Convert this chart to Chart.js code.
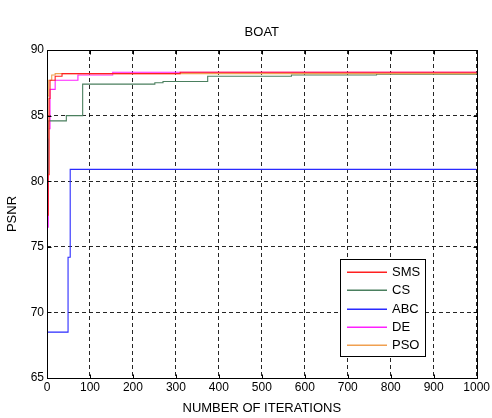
<!DOCTYPE html>
<html>
<head>
<meta charset="utf-8">
<script src="https://cdn.jsdelivr.net/npm/chart.js@4.4.0/dist/chart.umd.min.js"></script>
<style>
html,body{margin:0;padding:0;background:#fff;}
canvas{display:block;}
</style>
</head>
<body>
<canvas id="c" width="492" height="418"></canvas>
<script>
// ---- data ----
const seriesNames = ["SMS", "CS", "ABC", "DE", "PSO"];
const xTicks = [0, 100, 200, 300, 400, 500, 600, 700, 800, 900, 1000];
const yTicks = [65, 70, 75, 80, 85, 90];

const smsIter = [0, 3, 5, 7, 12, 19, 35, 310, 1000];
const smsPSNR = [77.4, 80.5, 86.3, 87.7, 87.7, 88.0, 88.2, 88.3, 88.3];

const csIter = [0, 3, 45, 83, 251, 270, 374, 569, 767, 1000];
const csPSNR = [80.6, 84.6, 85.0, 87.4, 87.5, 87.6, 88.0, 88.1, 88.15, 88.15];

const abcIter = [0, 49, 54, 1000];
const abcPSNR = [68.5, 74.2, 80.9, 80.9];

const deIter = [0, 3, 7, 19, 72, 153, 1000];
const dePSNR = [76.5, 84.0, 87.0, 87.7, 88.1, 88.3, 88.3];

const psoIter = [0, 2, 4, 11, 19, 1000];
const psoPSNR = [83.3, 86.5, 87.7, 88.1, 88.2, 88.25];

const colors = ["#ff2020", "#4a7f5e", "#2a2aff", "#ff20ff", "#f0a050"];
const drawOrder = [0, 2, 2, 3, 1];

function pts(xs, ys) { return xs.map((v, i) => ({x: v, y: ys[i]})); }
const seriesData = [pts(smsIter, smsPSNR), pts(csIter, csPSNR), pts(abcIter, abcPSNR), pts(deIter, dePSNR), pts(psoIter, psoPSNR)];

Chart.defaults.font.family = "'Liberation Sans', Arial, sans-serif";
Chart.defaults.font.size = 12;
Chart.defaults.color = "#000";

const framePlugin = {
  id: 'frame',
  beforeDraw(chart) {
    const ctx = chart.ctx;
    ctx.save();
    ctx.fillStyle = '#fff';
    ctx.fillRect(0, 0, chart.width, chart.height);
    ctx.restore();
  },
  afterDatasetsDraw(chart) {
    const {ctx, chartArea, scales} = chart;
    const l = Math.round(chartArea.left) + 0.5, r = Math.round(chartArea.right) + 0.5;
    const t = Math.round(chartArea.top) + 0.5, b = Math.round(chartArea.bottom) + 0.5;
    ctx.save();
    ctx.strokeStyle = '#000';
    ctx.lineWidth = 1;
    ctx.setLineDash([]);
    ctx.strokeRect(l, t, r - l, b - t);
    ctx.beginPath();
    xTicks.forEach(v => {
      const px = Math.round(scales.x.getPixelForValue(v)) + 0.5;
      ctx.moveTo(px, b); ctx.lineTo(px, b - 4);
      ctx.moveTo(px, t); ctx.lineTo(px, t + 4);
    });
    yTicks.forEach(v => {
      const py = Math.round(scales.y.getPixelForValue(v)) + 0.5;
      ctx.moveTo(l, py); ctx.lineTo(l + 4, py);
      ctx.moveTo(r, py); ctx.lineTo(r - 4, py);
    });
    ctx.stroke();
    // legend box
    const bx = 340.5, by = 259.5, bw = 85, bh = 97;
    ctx.fillStyle = '#fff';
    ctx.fillRect(bx, by, bw, bh);
    ctx.strokeStyle = '#000';
    ctx.strokeRect(bx, by, bw, bh);
    ctx.font = "13px 'Liberation Sans', Arial, sans-serif";
    ctx.textBaseline = 'middle';
    ctx.textAlign = 'left';
    chart.data.datasets.forEach((ds, i) => {
      const y = Math.round(272 + i * 18.3);
      ctx.fillStyle = colors[i];
      ctx.fillRect(347, y - 0.5, 40, 1.5);
      ctx.fillStyle = '#000';
      ctx.fillText(ds.label, 392, y + 0.5);
    });
    ctx.restore();
  }
};

new Chart(document.getElementById('c'), {
  type: 'line',
  data: {
    datasets: seriesNames.map((n, i) => ({
      label: n,
      data: seriesData[i],
      borderColor: colors[i],
      backgroundColor: colors[i],
      borderWidth: 1.1,
      pointRadius: 0,
      stepped: 'before',
      fill: false,
      order: drawOrder[i]
    }))
  },
  options: {
    responsive: false,
    animation: false,
    layout: {padding: {left: 0, right: 15, top: 0, bottom: 0}},
    plugins: {
      legend: {display: false},
      tooltip: {enabled: false},
      title: {
        display: true,
        fullSize: false,
        text: 'BOAT',
        font: {size: 13, weight: 'normal'},
        color: '#000',
        padding: {top: 25, bottom: 9.4}
      }
    },
    scales: {
      x: {
        type: 'linear',
        min: 0, max: 1000,
        afterBuildTicks(scale) { scale.ticks = xTicks.map(v => ({value: v})); },
        afterFit(scale) { scale.height = 40; },
        ticks: {padding: 2, maxRotation: 0, autoSkip: false, callback: v => String(v)},
        grid: {color: 'rgba(0,0,0,0.85)', drawTicks: false},
        border: {display: false, dash: [4, 3]},
        title: {display: true, text: 'NUMBER OF ITERATIONS', font: {size: 13}, color: '#000', padding: {top: 0, bottom: 2}}
      },
      y: {
        type: 'linear',
        min: 65, max: 90,
        afterBuildTicks(scale) { scale.ticks = yTicks.map(v => ({value: v})); },
        afterFit(scale) { scale.width = 47; },
        ticks: {padding: 3, callback: v => String(v)},
        grid: {color: 'rgba(0,0,0,0.85)', drawTicks: false},
        border: {display: false, dash: [4, 3]},
        title: {display: true, text: 'PSNR', font: {size: 13}, color: '#000', padding: {top: 5, bottom: 0}}
      }
    }
  },
  plugins: [framePlugin]
});
</script>
</body>
</html>
